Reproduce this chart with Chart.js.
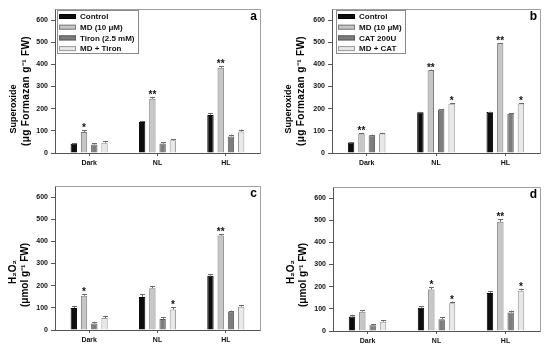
<!DOCTYPE html>
<html><head><meta charset="utf-8">
<script src="https://cdn.jsdelivr.net/npm/chart.js@4"></script>
<style>
html,body{margin:0;padding:0;background:#fff;}
#wrap{position:relative;width:550px;height:351px;overflow:hidden;}
.p{position:absolute;}
canvas{display:block;}
</style></head><body>
<div id="wrap">
<div class="p" style="left:0;top:0"><canvas id="ca" width="275" height="175"></canvas></div>
<div class="p" style="left:275px;top:0"><canvas id="cb" width="275" height="175"></canvas></div>
<div class="p" style="left:0;top:175px"><canvas id="cc" width="275" height="176"></canvas></div>
<div class="p" style="left:275px;top:175px"><canvas id="cd" width="275" height="176"></canvas></div>
</div>
<script>
const categories = ['Dark', 'NL', 'HL'];
const yTickValues = [0, 100, 200, 300, 400, 500, 600];
const yMax = 650;

// Panel a — Superoxide, Tiron
const aLabels = ['Control', 'MD (10 μM)', 'Tiron (2.5 mM)', 'MD + Tiron'];
const aControl = [42, 140, 172];
const aMD = [95, 245, 385];
const aInhibitor = [38, 43, 75];
const aMDInhibitor = [46, 57, 97];
const aControlErr = [3, 5, 8];
const aMDErr = [8, 8, 7];
const aInhibitorErr = [5, 6, 8];
const aMDInhibitorErr = [8, 6, 9];
const aMDStars = ['*', '**', '**'];
const aMDInhibitorStars = ['', '', ''];

// Panel b — Superoxide, CAT
const bLabels = ['Control', 'MD (10 μM)', 'CAT 200U', 'MD + CAT'];
const bControl = [47, 184, 185];
const bMD = [88, 373, 495];
const bInhibitor = [80, 196, 177];
const bMDInhibitor = [88, 222, 223];
const bControlErr = [2, 2, 2];
const bMDErr = [2, 3, 2];
const bInhibitorErr = [3, 2, 2];
const bMDInhibitorErr = [3, 2, 3];
const bMDStars = ['**', '**', '**'];
const bMDInhibitorStars = ['', '*', '*'];

// Panel c — H2O2, Tiron
const cLabels = ['Control', 'MD (10 μM)', 'Tiron (2.5 mM)', 'MD + Tiron'];
const cControl = [99, 149, 245];
const cMD = [155, 189, 426];
const cInhibitor = [29, 50, 83];
const cMDInhibitor = [54, 92, 105];
const cControlErr = [10, 12, 8];
const cMDErr = [8, 10, 6];
const cInhibitorErr = [8, 8, 5];
const cMDInhibitorErr = [10, 10, 8];
const cMDStars = ['*', '', '**'];
const cMDInhibitorStars = ['', '*', ''];

// Panel d — H2O2, CAT
const dLabels = ['Control', 'MD (10 μM)', 'CAT 200U', 'MD + CAT'];
const dControl = [65, 105, 172];
const dMD = [87, 187, 493];
const dInhibitor = [26, 53, 83];
const dMDInhibitor = [42, 125, 182];
const dControlErr = [8, 7, 8];
const dMDErr = [6, 10, 12];
const dInhibitorErr = [4, 8, 9];
const dMDInhibitorErr = [7, 8, 9];
const dMDStars = ['', '*', '**'];
const dMDInhibitorStars = ['', '*', '*'];

const superoxideTitle = ['Superoxide', '(μg Formazan g⁻¹ FW)'];
const h2o2Title = ['H₂O₂', '(μmol g⁻¹ FW)'];

const FILLS = ['#0d0d0d', '#c6c6c6', '#7d7d7d', '#e8e8e8'];
const BORDERS = ['#000000', '#7a7a7a', '#5a5a5a', '#9a9a9a'];
const FONT = "'Liberation Sans', Arial, Helvetica, sans-serif";

function makePanel(id, cfg) {
  const datasets = cfg.series.map((vals, i) => ({
    label: cfg.labels[i],
    data: vals,
    backgroundColor: FILLS[i],
    borderColor: BORDERS[i],
    borderWidth: 1,
    borderSkipped: 'bottom',
    categoryPercentage: 0.6,
    barPercentage: 0.62
  }));
  const extras = {
    id: 'extras' + id,
    afterDatasetsDraw(chart) {
      const ctx = chart.ctx, ys = chart.scales.y;
      ctx.save();
      cfg.errors.forEach((errs, i) => {
        const meta = chart.getDatasetMeta(i);
        meta.data.forEach((bar, j) => {
          const top = ys.getPixelForValue(cfg.series[i][j]);
          const et = ys.getPixelForValue(cfg.series[i][j] + errs[j]);
          const x = Math.round(bar.x) + 0.5;
          ctx.strokeStyle = '#6a6a6a';
          ctx.lineWidth = 1;
          ctx.beginPath();
          ctx.moveTo(x, top); ctx.lineTo(x, et);
          ctx.moveTo(x - 2.5, Math.round(et) + 0.5); ctx.lineTo(x + 2.5, Math.round(et) + 0.5);
          ctx.stroke();
        });
      });
      ctx.fillStyle = '#111';
      ctx.font = 'bold 10px ' + FONT;
      ctx.textAlign = 'center';
      ctx.textBaseline = 'alphabetic';
      cfg.stars.forEach(([dsIndex, arr]) => {
        const meta = chart.getDatasetMeta(dsIndex);
        arr.forEach((s, j) => {
          if (!s) return;
          const v = cfg.series[dsIndex][j] + cfg.errors[dsIndex][j];
          ctx.fillText(s, meta.data[j].x, ys.getPixelForValue(v) + 1);
        });
      });
      ctx.restore();
    },
    afterDraw(chart) {
      const ctx = chart.ctx, area = chart.chartArea;
      ctx.save();
      ctx.strokeStyle = '#a0a0a0';
      ctx.lineWidth = 1;
      ctx.beginPath();
      ctx.moveTo(Math.round(area.left) + 0.5, Math.round(area.top) + 0.5);
      ctx.lineTo(Math.round(area.right) + 0.5, Math.round(area.top) + 0.5);
      ctx.lineTo(Math.round(area.right) + 0.5, Math.round(area.bottom) + 0.5);
      ctx.stroke();
      // y-axis title (two rotated lines)
      ctx.fillStyle = '#000';
      ctx.textBaseline = 'middle';
      ctx.textAlign = 'center';
      cfg.titleLines.forEach((ln, k) => {
        ctx.save();
        ctx.font = 'bold ' + ln.size + 'px ' + FONT;
        if (ln.len) {
          const w = ctx.measureText(cfg.title[k]).width;
          const n = [...cfg.title[k]].length;
          if ('letterSpacing' in ctx) ctx.letterSpacing = Math.max(0, (ln.len - w) / n).toFixed(2) + 'px';
        }
        ctx.translate(ln.x, ln.y);
        ctx.rotate(-Math.PI / 2);
        ctx.fillText(cfg.title[k], 0, 0);
        ctx.restore();
      });
      // panel letter
      ctx.fillStyle = '#000';
      ctx.font = 'bold 12px ' + FONT;
      ctx.textAlign = 'right';
      ctx.textBaseline = 'middle';
      ctx.fillText(cfg.letter, area.right - 3, area.top + 8);
      if (cfg.legend) {
        const lx = area.left + cfg.legendDx, ly = area.top + 1;
        const rowH = 10.7;
        ctx.font = 'bold 8px ' + FONT;
        let maxW = 0;
        cfg.labels.forEach(l => { maxW = Math.max(maxW, ctx.measureText(l).width); });
        const bw = 23 + maxW + 3, bh = 6.5 + 3 * rowH + 4.5;
        ctx.fillStyle = '#fff';
        ctx.fillRect(lx, ly, bw, bh);
        ctx.strokeStyle = '#8a8a8a';
        ctx.strokeRect(Math.round(lx) + 0.5, Math.round(ly) + 0.5, Math.round(bw), Math.round(bh));
        cfg.labels.forEach((l, i) => {
          const cy = ly + 6.5 + i * rowH;
          ctx.fillStyle = FILLS[i];
          ctx.fillRect(lx + 2, cy - 2.5, 17, 5);
          ctx.strokeStyle = BORDERS[i];
          ctx.strokeRect(lx + 2.5, cy - 2, 16, 4);
          ctx.fillStyle = '#111';
          ctx.textAlign = 'left';
          ctx.textBaseline = 'middle';
          ctx.fillText(l, lx + 23, cy + 0.5);
        });
      }
      ctx.restore();
    }
  };
  return new Chart(document.getElementById(id), {
    type: 'bar',
    data: { labels: categories, datasets },
    options: {
      responsive: false,
      devicePixelRatio: 1,
      animation: false,
      events: [],
      layout: { padding: { left: 0, top: cfg.top, right: cfg.right, bottom: 0 } },
      plugins: { legend: { display: false }, tooltip: { enabled: false } },
      scales: {
        x: {
          grid: { display: true, drawOnChartArea: false, offset: false, tickLength: 3, color: '#555', tickColor: '#555' },
          border: { display: true, color: '#555', width: 1 },
          ticks: { color: '#111', font: { family: FONT, size: 7, weight: 'bold' }, padding: 3, maxRotation: 0 },
          afterFit(s) { s.height = cfg.xH; }
        },
        y: {
          min: 0, max: yMax,
          afterBuildTicks(s) { s.ticks = yTickValues.map(v => ({ value: v })); },
          grid: { display: true, drawOnChartArea: false, tickLength: 4, color: '#555', tickColor: '#555' },
          border: { display: true, color: '#555', width: 1 },
          ticks: { color: '#111', font: { family: FONT, size: 7, weight: 'bold' }, padding: 3 },
          title: { display: false },
          afterFit(s) { s.width = cfg.yW; }
        }
      }
    },
    plugins: [extras]
  });
}

makePanel('ca', {
  labels: aLabels, series: [aControl, aMD, aInhibitor, aMDInhibitor],
  errors: [aControlErr, aMDErr, aInhibitorErr, aMDInhibitorErr],
  stars: [[1, aMDStars], [3, aMDInhibitorStars]],
  title: superoxideTitle,
  titleLines: [{ x: 14, y: 109, size: 9 }, { x: 26, y: 91, size: 10, len: 110 }],
  letter: 'a', legend: true, legendDx: 2,
  yW: 55, top: 9, right: 15, xH: 22
});
makePanel('cb', {
  labels: bLabels, series: [bControl, bMD, bInhibitor, bMDInhibitor],
  errors: [bControlErr, bMDErr, bInhibitorErr, bMDInhibitorErr],
  stars: [[1, bMDStars], [3, bMDInhibitorStars]],
  title: superoxideTitle,
  titleLines: [{ x: 14, y: 109, size: 9 }, { x: 26, y: 91, size: 10, len: 110 }],
  letter: 'b', legend: true, legendDx: 4,
  yW: 57, top: 9, right: 10, xH: 22
});
makePanel('cc', {
  labels: cLabels, series: [cControl, cMD, cInhibitor, cMDInhibitor],
  errors: [cControlErr, cMDErr, cInhibitorErr, cMDInhibitorErr],
  stars: [[1, cMDStars], [3, cMDInhibitorStars]],
  title: h2o2Title,
  titleLines: [{ x: 13, y: 97, size: 10 }, { x: 25, y: 100, size: 10, len: 63 }],
  letter: 'c', legend: false,
  yW: 55, top: 11, right: 15, xH: 21
});
makePanel('cd', {
  labels: dLabels, series: [dControl, dMD, dInhibitor, dMDInhibitor],
  errors: [dControlErr, dMDErr, dInhibitorErr, dMDInhibitorErr],
  stars: [[1, dMDStars], [3, dMDInhibitorStars]],
  title: h2o2Title,
  titleLines: [{ x: 16, y: 97, size: 10 }, { x: 28, y: 100, size: 10, len: 63 }],
  letter: 'd', legend: false,
  yW: 58, top: 12, right: 10, xH: 20
});
</script>
</body></html>
